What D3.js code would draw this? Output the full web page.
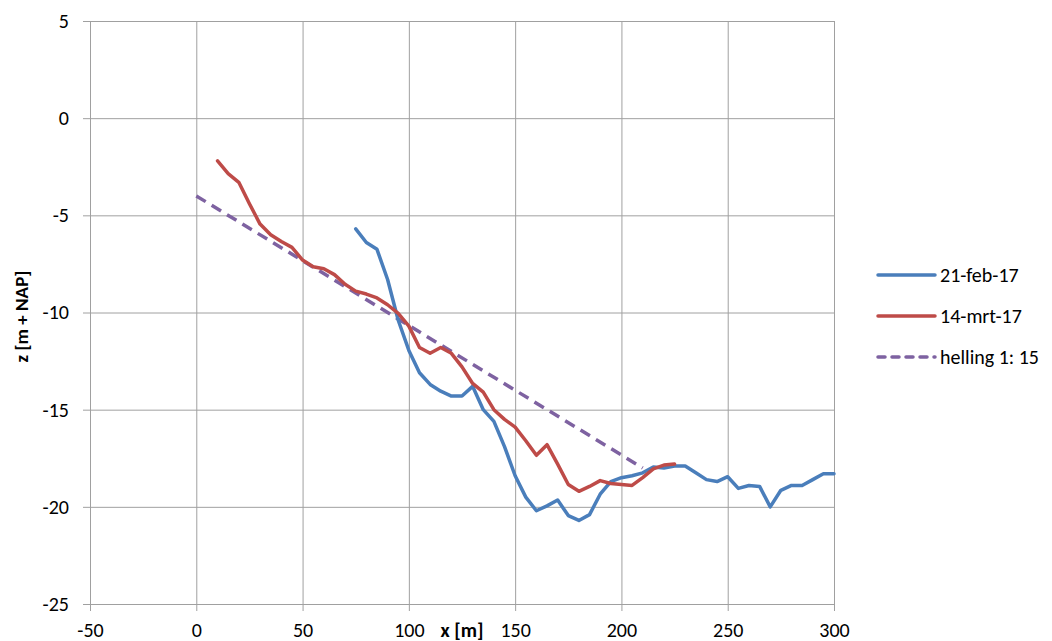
<!DOCTYPE html>
<html>
<head>
<meta charset="utf-8">
<script src="https://cdn.jsdelivr.net/npm/d3@7"></script>
<style>
  body { margin: 0; background: #fff; }
  text { font-family: Calibri, Carlito, Lato, sans-serif; fill: #000; }
  .grid line { stroke: #a0a0a0; stroke-width: 1; }
  .grid path { display: none; }
</style>
</head>
<body>
<div id="chart"></div>
<script>
// Data (x in m, z in m+NAP)
var febX = [75, 80, 85, 90, 95, 100, 105, 110, 115, 120, 125, 130, 135, 140, 145, 150,
  155, 160, 165, 170, 175, 180, 185, 190, 195, 200, 205, 210, 215, 220, 225, 230, 235,
  240, 245, 250, 255, 260, 265, 270, 275, 280, 285, 290, 295, 300];
var febZ = [-5.7, -6.4, -6.75, -8.3, -10.4, -11.95, -13.1, -13.7, -14.05, -14.3, -14.3, -13.8,
  -15.0, -15.6, -16.9, -18.4, -19.5, -20.2, -19.95, -19.65, -20.45, -20.7, -20.4, -19.35,
  -18.7, -18.5, -18.4, -18.25, -17.95, -18.0, -17.9, -17.9, -18.25, -18.6, -18.7, -18.45,
  -19.05, -18.9, -18.95, -20.0, -19.15, -18.9, -18.9, -18.6, -18.3, -18.3];

var mrtX = [10, 15, 20, 25, 30, 35, 40, 45, 50, 55, 60, 65, 70, 75, 80, 85, 90, 95, 100,
  105, 110, 115, 120, 125, 130, 135, 140, 145, 150, 155, 160, 165, 170, 175, 180, 185,
  190, 195, 200, 205, 210, 215, 220, 225];
var mrtZ = [-2.2, -2.85, -3.3, -4.4, -5.45, -6.0, -6.35, -6.65, -7.3, -7.65, -7.75, -8.05,
  -8.55, -8.9, -9.05, -9.25, -9.6, -10.05, -10.7, -11.8, -12.1, -11.8, -12.1, -12.8,
  -13.65, -14.1, -15.0, -15.5, -15.9, -16.6, -17.35, -16.8, -17.8, -18.85, -19.2, -18.95,
  -18.65, -18.8, -18.85, -18.9, -18.5, -18.05, -17.85, -17.8];

// slope 1:15 line, two end points
var hellingX = [0, 210];
var hellingZ = [-4, -18];

var seriesNames = ["21-feb-17", "14-mrt-17", "helling 1: 15"];
var xTicks = [-50, 0, 50, 100, 150, 200, 250, 300];
var yTicks = [5, 0, -5, -10, -15, -20, -25];

// SVG area
var svgWidth = 1052;
var svgHeight = 641;

var margin = { top: 21, right: 218, bottom: 37, left: 90 };

var chartWidth = svgWidth - margin.left - margin.right;
var chartHeight = svgHeight - margin.top - margin.bottom;

var fontSize = "20px";

var svg = d3.select("#chart")
  .append("svg")
  .attr("width", svgWidth)
  .attr("height", svgHeight);

var chartGroup = svg.append("g")
  .attr("transform", `translate(${margin.left}, ${margin.top})`);

var xScale = d3.scaleLinear().domain([-50, 300]).range([0, chartWidth]);
var yScale = d3.scaleLinear().domain([-25, 5]).range([chartHeight, 0]);

// plain hyphen as minus, like the original
var fmt = d => String(d);

// Axes double as grid; lines extended a bit outside for the tick marks
var leftAxis = d3.axisLeft(yScale)
  .tickValues(yTicks)
  .tickSize(-chartWidth)
  .tickPadding(21)
  .tickFormat(fmt);

var bottomAxis = d3.axisBottom(xScale)
  .tickValues(xTicks)
  .tickSize(-chartHeight)
  .tickPadding(19)
  .tickFormat(fmt);

var yAxisG = chartGroup.append("g")
  .attr("class", "grid")
  .call(leftAxis);
yAxisG.selectAll(".tick line").attr("x1", -7);
yAxisG.selectAll(".tick text")
  .attr("font-size", fontSize)
  .attr("font-family", null)
  .attr("fill", "#000");

var xAxisG = chartGroup.append("g")
  .attr("class", "grid")
  .attr("transform", `translate(0, ${chartHeight})`)
  .call(bottomAxis);
xAxisG.selectAll(".tick line").attr("y1", 7);
xAxisG.selectAll(".tick text")
  .attr("font-size", fontSize)
  .attr("font-family", null)
  .attr("fill", "#000");

// Series
var series = [
  { name: seriesNames[0], xs: febX, zs: febZ, color: "#4a7ebb", dash: null },
  { name: seriesNames[1], xs: mrtX, zs: mrtZ, color: "#be4b48", dash: null },
  { name: seriesNames[2], xs: hellingX, zs: hellingZ, color: "#7e62a1", dash: "11,7" }
];

var line = d3.line()
  .x(d => xScale(d[0]))
  .y(d => yScale(d[1]));

// draw helling first so the measured profiles sit on top
[series[2], series[0], series[1]].forEach(function(s) {
  chartGroup.append("path")
    .datum(d3.zip(s.xs, s.zs))
    .attr("fill", "none")
    .attr("stroke", s.color)
    .attr("stroke-width", 3.5)
    .attr("stroke-linejoin", "round")
    .attr("stroke-linecap", s.dash ? "butt" : "round")
    .attr("stroke-dasharray", s.dash)
    .attr("d", line);
});

// Axis titles
chartGroup.append("text")
  .attr("x", chartWidth / 2)
  .attr("y", chartHeight + 33)
  .attr("text-anchor", "middle")
  .attr("font-size", fontSize)
  .attr("font-weight", "bold")
  .text("x [m]");

chartGroup.append("text")
  .attr("transform", "rotate(-90)")
  .attr("x", -chartHeight / 2 - 4)
  .attr("y", -margin.left + 28)
  .attr("text-anchor", "middle")
  .attr("font-size", "19px")
  .attr("font-weight", "bold")
  .text("z [m + NAP]");

// Legend
var legend = svg.append("g")
  .attr("transform", "translate(878, 275)");

series.forEach(function(s, i) {
  var row = legend.append("g").attr("transform", `translate(0, ${i * 41})`);
  row.append("line")
    .attr("x1", 0).attr("x2", 57)
    .attr("y1", 0).attr("y2", 0)
    .attr("stroke", s.color)
    .attr("stroke-width", 3.5)
    .attr("stroke-linecap", "round")
    .attr("stroke-dasharray", s.dash ? "7,7" : null);
  row.append("text")
    .attr("x", 62)
    .attr("y", 0)
    .attr("dy", "0.35em")
    .attr("font-size", fontSize)
    .text(s.name);
});
</script>
</body>
</html>
